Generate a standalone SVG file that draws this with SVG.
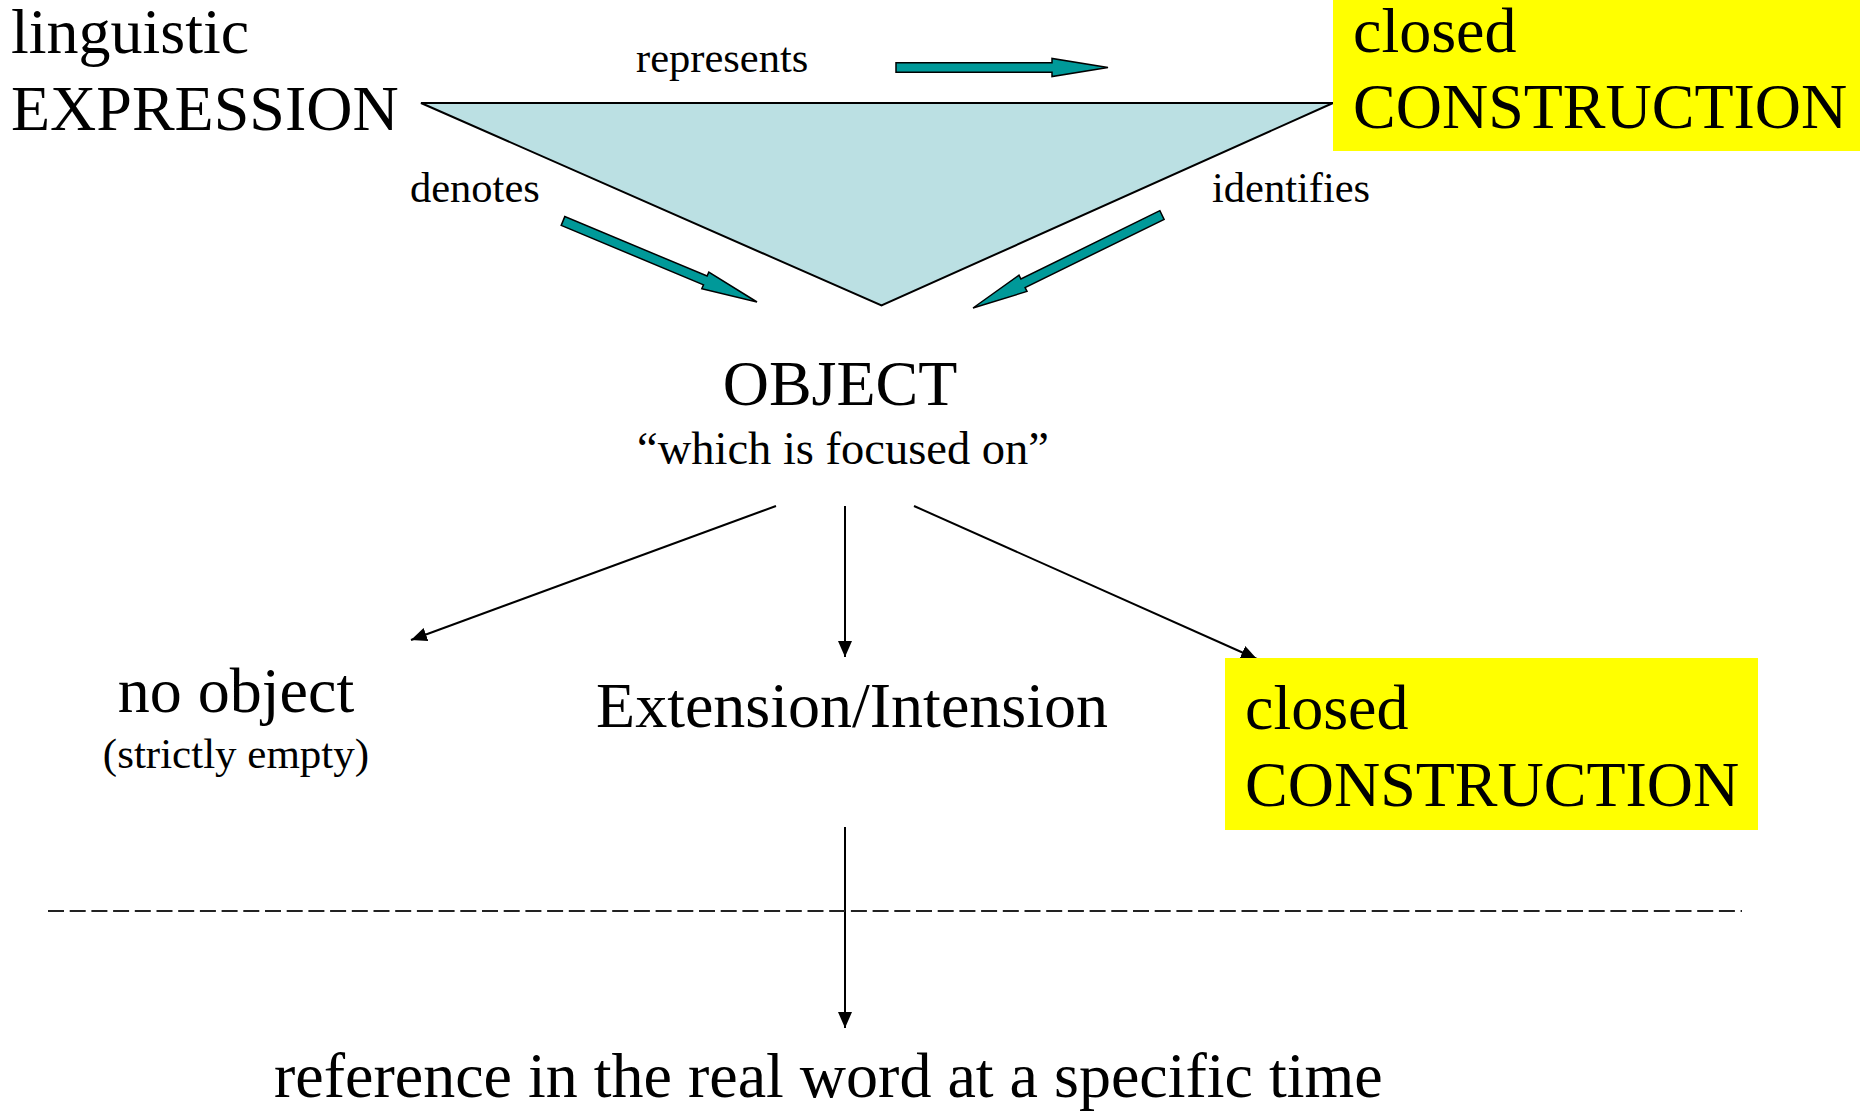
<svg xmlns="http://www.w3.org/2000/svg" width="1860" height="1112" viewBox="0 0 1860 1112">
<defs>
<style>
text{font-family:"Liberation Serif","Times New Roman",serif;fill:#000}
.big{font-size:64px}
.lbl{font-size:42.5px}
.mid{font-size:46.5px}
.sm{font-size:43px}
.box{fill:#FFFF00;stroke:none}
.tri{fill:#BBE0E3;stroke:#000;stroke-width:2;stroke-linejoin:miter}
.block{fill:#009999;stroke:#000;stroke-width:1.5;stroke-linejoin:miter}
.thin{stroke:#000;stroke-width:2;fill:none;marker-end:url(#ah)}
.dash{stroke:#222;stroke-width:2;stroke-dasharray:16 5.7;fill:none}
</style>
<marker id="ah" markerUnits="userSpaceOnUse" markerWidth="18" markerHeight="16" refX="16" refY="7" orient="auto">
<path d="M0,0 L16,7 L0,14 Z" fill="#000"/>
</marker>
</defs>
<rect width="1860" height="1112" fill="#fff"/>

<g id="triangle">
<polygon class="tri" points="421,103 1333,103 881.5,305.5"/>
</g>

<g id="expression">
<text class="big" x="11" y="53">linguistic</text>
<text class="big" x="11" y="130">EXPRESSION</text>
</g>

<g id="construction-top">
<rect class="box" x="1333" y="0" width="527" height="151"/>
<text class="big" x="1353" y="52">closed</text>
<text class="big" x="1353" y="128">CONSTRUCTION</text>
</g>

<g id="object">
<text class="big" x="840" y="405" text-anchor="middle">OBJECT</text>
<text class="mid" x="843" y="464" text-anchor="middle">“which is focused on”</text>
</g>

<g id="no-object">
<text class="big" x="236" y="712" text-anchor="middle">no object</text>
<text class="sm" x="236" y="768" text-anchor="middle">(strictly empty)</text>
</g>

<g id="extension">
<text class="big" x="852" y="727" text-anchor="middle">Extension/Intension</text>
</g>

<g id="reference">
<text class="big" x="274" y="1097">reference in the real word at a specific time</text>
</g>

<g id="connectors">
<polygon class="block" points="896,62.7 1052,62.7 1052,58.5 1108,67.5 1052,76.5 1052,72.3 896,72.3"/>
<polygon class="block" points="561.2,225.4 703.5,284.8 701.8,288.7 757,302 708.8,272.1 707.1,276 564.8,216.6"/>
<polygon class="block" points="1159.9,210.7 1020.9,279 1019,275.2 973,308 1027,291.4 1025.1,287.6 1164.1,219.3"/>
<text class="lbl" x="636" y="72">represents</text>
<text class="lbl" x="410" y="202">denotes</text>
<text class="lbl" x="1212" y="202">identifies</text>
<line class="thin" x1="776" y1="506" x2="411" y2="640"/>
<line class="thin" x1="845" y1="506" x2="845" y2="657"/>
<line class="thin" x1="914" y1="506" x2="1257" y2="659"/>
<line class="thin" x1="845" y1="827" x2="845" y2="1028"/>
<line class="dash" x1="48" y1="911" x2="1742" y2="911"/>
</g>

<g id="construction-bottom">
<rect class="box" x="1225" y="658" width="533" height="172"/>
<text class="big" x="1245" y="729">closed</text>
<text class="big" x="1245" y="806">CONSTRUCTION</text>
</g>
</svg>
